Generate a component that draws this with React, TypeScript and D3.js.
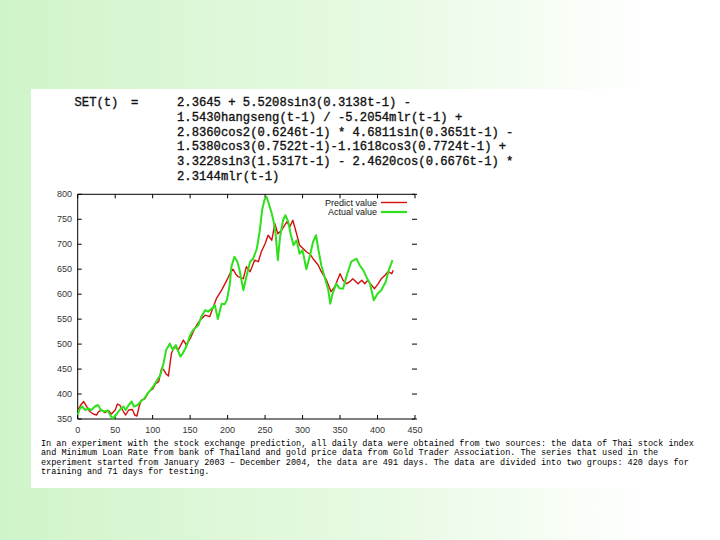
import * as d3 from "d3";

// formula shown above the chart
const formulaLines = [
  "2.3645 + 5.5208sin3(0.3138t-1) -",
  "1.5430hangseng(t-1) / -5.2054mlr(t-1) +",
  "2.8360cos2(0.6246t-1) * 4.6811sin(0.3651t-1) -",
  "1.5380cos3(0.7522t-1)-1.1618cos3(0.7724t-1) +",
  "3.3228sin3(1.5317t-1) - 2.4620cos(0.6676t-1) *",
  "2.3144mlr(t-1)",
];

const captionLines = [
  "In an experiment with the stock exchange prediction, all daily data were obtained from two sources: the data of Thai stock index",
  "and Minimum Loan Rate from bank of Thailand and gold price data from Gold Trader Association. The series that used in the",
  "experiment started from January 2003 \u2013 December 2004, the data are 491 days. The data are divided into two groups: 420 days for",
  "training and 71 days for testing.",
];

const xTicks = [0, 50, 100, 150, 200, 250, 300, 350, 400, 450];
const yTicks = [350, 400, 450, 500, 550, 600, 650, 700, 750, 800];

// [day, SET index]
const predict: [number, number][] = [
  [0, 368], [4, 378], [8, 385], [12, 375], [16, 365], [21, 360], [25, 358], [28, 365], [32, 368], [36, 363],
  [41, 367], [45, 360], [50, 368], [53, 380], [56, 378], [61, 365], [64, 358], [68, 368], [73, 369], [76, 358],
  [79, 356], [82, 375], [85, 388], [90, 391], [95, 405], [100, 410], [104, 421], [108, 425], [112, 452], [115, 448],
  [118, 440], [121, 436], [125, 481], [129, 495], [134, 488], [141, 508], [145, 498], [150, 511], [156, 531], [163, 548],
  [170, 558], [176, 555], [180, 571], [185, 591], [192, 608], [199, 628], [203, 641], [207, 650], [211, 640], [214, 635],
  [221, 631], [225, 655], [230, 645], [236, 668], [241, 665], [245, 685], [250, 701], [254, 718], [259, 708], [263, 741],
  [267, 721], [272, 728], [279, 745], [283, 735], [287, 748], [292, 721], [296, 698], [301, 691], [305, 685], [310, 680],
  [314, 671], [321, 658], [325, 645], [332, 628], [338, 605], [343, 615], [350, 641], [354, 628], [359, 621], [363, 625],
  [367, 631], [374, 621], [379, 628], [383, 621], [387, 628], [392, 618], [396, 611], [401, 621], [405, 631], [410, 638],
  [414, 645], [419, 641], [421, 648],
];

const actual: [number, number][] = [
  [0, 358], [3, 371], [6, 375], [10, 368], [14, 371], [18, 368], [23, 375], [27, 378], [31, 368], [35, 365],
  [40, 367], [44, 356], [47, 351], [52, 360], [56, 368], [61, 375], [64, 368], [68, 378], [72, 385], [75, 375],
  [80, 378], [84, 385], [89, 391], [93, 401], [97, 408], [102, 418], [106, 428], [110, 437], [114, 458], [118, 488],
  [123, 501], [127, 488], [131, 498], [137, 475], [140, 481], [145, 495], [150, 518], [154, 528], [161, 538], [165, 555],
  [170, 568], [174, 565], [179, 571], [183, 578], [187, 550], [192, 581], [196, 580], [199, 588], [203, 620], [205, 655],
  [209, 675], [213, 665], [216, 648], [221, 608], [225, 635], [230, 665], [234, 671], [239, 691], [243, 728], [246, 768],
  [249, 788], [252, 795], [255, 781], [259, 761], [262, 741], [264, 721], [267, 668], [270, 715], [274, 748], [277, 758],
  [281, 745], [284, 721], [288, 698], [292, 708], [296, 681], [300, 688], [305, 650], [310, 678], [314, 705], [318, 718],
  [321, 690], [325, 658], [330, 631], [334, 611], [337, 581], [340, 601], [345, 621], [349, 612], [354, 611], [359, 638],
  [365, 665], [372, 671], [376, 658], [381, 648], [385, 635], [390, 621], [395, 588], [400, 601], [405, 608], [411, 625],
  [415, 648], [420, 668],
];

const RED = "#d40f0f";
const GREEN = "#2fe01c";

export default function App() {
  const x = d3.scaleLinear([0, 450], [77.7, 415]);
  const y = d3.scaleLinear([350, 800], [419, 194.3]);
  const line = d3.line<[number, number]>().x((d) => x(d[0])).y((d) => y(d[1]));
  const tickFont = { fontFamily: "Liberation Sans, Arial, sans-serif", fontSize: 9, fill: "#333" };

  return (
    <svg width={720} height={540} style={{ position: "absolute", left: 0, top: 0 }}>
      <defs>
        <linearGradient id="bg" x1="0" x2="1" y1="0" y2="0">
          <stop offset="0%" stopColor="#d0f4c9" />
          <stop offset="55%" stopColor="#e8fae4" />
          <stop offset="90%" stopColor="#ffffff" />
        </linearGradient>
      </defs>
      <rect width={720} height={540} fill="url(#bg)" />
      <rect x={31} y={89} width={668} height={399} fill="#fff" />

      {/* formula */}
      <g fontFamily="Liberation Mono, Courier New, monospace" fontSize={12.2} fill="#111" stroke="#111" strokeWidth={0.35}>
        <text x={74.5} y={106}>SET(t)</text>
        <text x={131} y={106}>=</text>
        {formulaLines.map((s, i) => (
          <text key={i} x={177} y={106 + i * 14.8} style={{ whiteSpace: "pre" }}>{s}</text>
        ))}
      </g>

      {/* axes */}
      <g stroke="#000" strokeWidth={1} fill="none">
        <line x1={77.7} x2={77.7} y1={194.3} y2={419} />
        <line x1={77.7} x2={415} y1={419} y2={419} />
        <line x1={77.7} x2={415} y1={194.3} y2={194.3} />
        {xTicks.map((t) => (
          <g key={t}>
            <line x1={x(t)} x2={x(t)} y1={419} y2={415} />
            <line x1={x(t)} x2={x(t)} y1={194.3} y2={198.3} />
          </g>
        ))}
        {yTicks.map((t) => (
          <g key={t}>
            <line x1={77.7} x2={81.7} y1={y(t)} y2={y(t)} />
            <line x1={412} x2={417} y1={y(t)} y2={y(t)} />
          </g>
        ))}
      </g>
      <g {...tickFont}>
        {yTicks.map((t) => (
          <text key={t} x={72} y={y(t) + 3} textAnchor="end">{t}</text>
        ))}
        {xTicks.map((t) => (
          <text key={t} x={x(t)} y={432.5} textAnchor="middle">{t}</text>
        ))}
      </g>

      {/* series */}
      <path d={line(predict)!} fill="none" stroke={RED} strokeWidth={1.4} strokeLinejoin="round" />
      <path d={line(actual)!} fill="none" stroke={GREEN} strokeWidth={2} strokeLinejoin="round" />

      {/* legend */}
      <g {...tickFont} fill="#111">
        <text x={377} y={205.5} textAnchor="end">Predict value</text>
        <text x={377} y={215} textAnchor="end">Actual value</text>
      </g>
      <line x1={381} x2={407} y1={202.5} y2={202.5} stroke={RED} strokeWidth={1.4} />
      <line x1={381} x2={407} y1={212} y2={212} stroke={GREEN} strokeWidth={2.2} />

      {/* caption */}
      <g fontFamily="Liberation Mono, monospace" fontSize={8.5} fill="#000">
        {captionLines.map((s, i) => (
          <text key={i} x={41} y={446 + i * 9.3} style={{ whiteSpace: "pre" }}>{s}</text>
        ))}
      </g>
    </svg>
  );
}
